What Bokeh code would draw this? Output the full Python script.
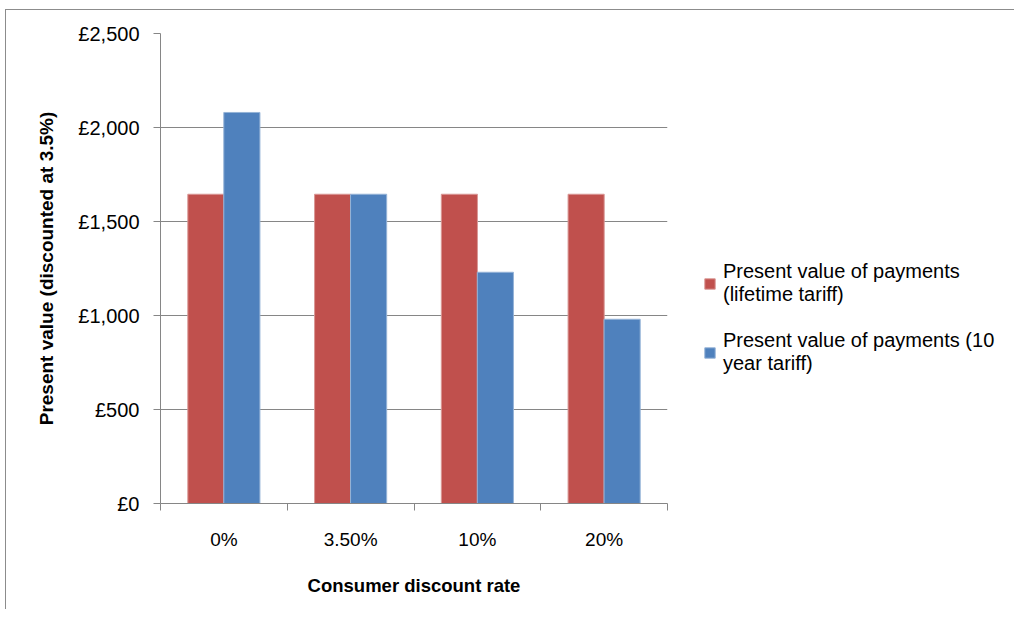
from bokeh.plotting import figure
from bokeh.models import (Range1d, FixedTicker, CustomJSTickFormatter, Legend, LegendItem,
                          ColumnDataSource)
from bokeh.embed import file_html
from bokeh.resources import INLINE

categories = ["0%", "3.50%", "10%", "20%"]
lifetime = [1645, 1645, 1645, 1645]
ten_year = [2080, 1645, 1230, 980]
series_names = ["Present value of payments\n(lifetime tariff)",
                "Present value of payments (10\nyear tariff)"]
y_ticks = [0, 500, 1000, 1500, 2000, 2500]

RED = "#C0504D"
BLUE = "#4F81BD"
GRID = "#868686"
FONT = "Liberation Sans"

idx = [i + 0.5 for i in range(len(categories))]
src = ColumnDataSource(dict(
    x_red=[v - 0.142 for v in idx],
    x_blue=[v + 0.142 for v in idx],
    lifetime=lifetime, ten_year=ten_year))

p = figure(frame_width=507, frame_height=470, output_backend="svg", toolbar_location=None,
           x_range=Range1d(0, len(categories)), y_range=Range1d(0, 2500),
           min_border_left=154, min_border_right=10, min_border_top=23,
           min_border_bottom=106)
p.outline_line_color = None
p.styles = {"border-left": "1px solid #8c8c8c", "border-top": "1px solid #8c8c8c",
            "margin-left": "5px", "margin-top": "9px"}

r1 = p.vbar(x="x_red", top="lifetime", width=0.285, source=src,
            fill_color=RED, line_color="#D99795", line_width=1)
r2 = p.vbar(x="x_blue", top="ten_year", width=0.285, source=src,
            fill_color=BLUE, line_color="#95B3D7", line_width=1)

# x axis
xa = p.xaxis[0]
xa.ticker = FixedTicker(ticks=idx, minor_ticks=list(range(len(categories) + 1)))
xa.major_label_overrides = {v: c for v, c in zip(idx, categories)}
xa.major_tick_out = 0
xa.major_tick_in = 0
xa.minor_tick_out = 7
xa.minor_tick_in = 0
xa.minor_tick_line_color = GRID
xa.axis_line_color = GRID
xa.major_label_text_font = FONT
xa.major_label_text_font_size = "19px"
xa.major_label_text_color = "#000000"
xa.major_label_standoff = 18
xa.axis_label = "Consumer discount rate"
xa.axis_label_text_font = FONT
xa.axis_label_text_font_style = "bold"
xa.axis_label_text_font_size = "18.5px"
xa.axis_label_text_color = "#000000"
xa.axis_label_standoff = 22

# y axis
ya = p.yaxis[0]
ya.ticker = FixedTicker(ticks=y_ticks)
ya.formatter = CustomJSTickFormatter(code="return '\u00a3' + Math.round(tick).toLocaleString('en-GB');")
ya.major_tick_out = 7
ya.major_tick_in = 0
ya.minor_tick_line_color = None
ya.major_tick_line_color = GRID
ya.axis_line_color = GRID
ya.major_label_text_font = FONT
ya.major_label_text_font_size = "20px"
ya.major_label_text_color = "#000000"
ya.major_label_standoff = 14
ya.axis_label = "Present value (discounted at 3.5%)"
ya.axis_label_text_font = FONT
ya.axis_label_text_font_style = "bold"
ya.axis_label_text_font_size = "19px"
ya.axis_label_text_color = "#000000"
ya.axis_label_standoff = 18

p.xgrid.grid_line_color = None
p.ygrid.grid_line_color = GRID
p.ygrid.grid_line_width = 1

legend = Legend(items=[LegendItem(label=series_names[0], renderers=[r1]),
                       LegendItem(label=series_names[1], renderers=[r2])],
                location=(36, 128), border_line_color=None,
                background_fill_alpha=0, padding=0, margin=0, spacing=23,
                glyph_width=13, glyph_height=13, label_standoff=7,
                label_text_font=FONT, label_text_font_size="20px",
                label_text_color="#000000", label_text_line_height=1.35)
p.add_layout(legend, "right")

open("out.html", "w").write(file_html(p, INLINE))
